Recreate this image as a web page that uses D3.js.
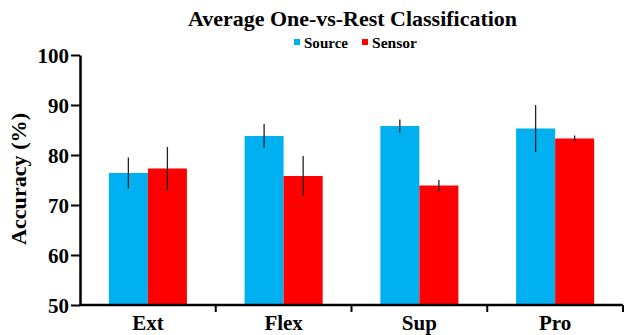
<!DOCTYPE html>
<html>
<head>
<meta charset="utf-8">
<script src="https://cdn.jsdelivr.net/npm/d3@7"></script>
<style>
  html, body { margin: 0; padding: 0; background: #fff; }
  svg { display: block; }
  text { font-family: "Liberation Serif", "Times New Roman", serif; font-weight: bold; fill: #000; }
</style>
</head>
<body>
<svg id="chart" width="625" height="335"></svg>
<script>
const categories = ["Ext", "Flex", "Sup", "Pro"];
const seriesNames = ["Source", "Sensor"];
const sourceValues = [76.4, 83.8, 85.8, 85.3];
const sourceErrors = [3.1, 2.4, 1.3, 4.7];
const sensorValues = [77.3, 75.8, 73.9, 83.3];
const sensorErrors = [4.3, 4.0, 1.1, 0.6];
const yTicks = [50, 60, 70, 80, 90, 100];
const colors = ["#00b0f0", "#ff0000"];

const svg = d3.select("#chart");
const margin = { left: 80, right: 2, top: 55, bottom: 30 };
const W = 625, H = 335;

const y = d3.scaleLinear().domain([50, 100]).range([H - margin.bottom, margin.top]);
const x0 = d3.scaleBand().domain(categories).range([margin.left, W - margin.right]).padding(0);
const groupW = x0.bandwidth() * 0.575;
const x1 = d3.scaleBand().domain(seriesNames)
  .range([x0.bandwidth() / 2 - groupW / 2, x0.bandwidth() / 2 + groupW / 2]).padding(0);

const data = [];
categories.forEach((c, i) => {
  data.push({ cat: c, s: "Source", v: sourceValues[i], e: sourceErrors[i], color: colors[0] });
  data.push({ cat: c, s: "Sensor", v: sensorValues[i], e: sensorErrors[i], color: colors[1] });
});

// bars
svg.append("g").selectAll("rect").data(data).join("rect")
  .attr("x", d => x0(d.cat) + x1(d.s))
  .attr("width", x1.bandwidth())
  .attr("y", d => y(d.v))
  .attr("height", d => y(50) - y(d.v))
  .attr("fill", d => d.color);

// error bars
svg.append("g").selectAll("line").data(data).join("line")
  .attr("x1", d => x0(d.cat) + x1(d.s) + x1.bandwidth() / 2)
  .attr("x2", d => x0(d.cat) + x1(d.s) + x1.bandwidth() / 2)
  .attr("y1", d => y(d.v + d.e))
  .attr("y2", d => y(d.v - d.e))
  .attr("stroke", "#222")
  .attr("stroke-width", 1.3);

// y axis
const yAxis = svg.append("g")
  .attr("transform", `translate(${margin.left},0)`)
  .attr("font-family", "Liberation Serif")
  .call(d3.axisLeft(y).tickValues(yTicks).tickSize(9).tickSizeOuter(0).tickPadding(2));
yAxis.select(".domain").attr("stroke", "#000").attr("stroke-width", 2.5);
yAxis.selectAll(".tick line").attr("stroke", "#000").attr("stroke-width", 2);
yAxis.selectAll(".tick text")
  .style("font-family", "'Liberation Serif', serif")
  .style("font-size", "21px").attr("fill", "#000").attr("dy", "0.34em");

// x axis
const xg = svg.append("g");
xg.append("line")
  .attr("x1", margin.left - 1).attr("x2", W - margin.right)
  .attr("y1", y(50)).attr("y2", y(50))
  .attr("stroke", "#000").attr("stroke-width", 2.5);
const boundaries = categories.slice(1).map(c => x0(c)).concat([x0.range()[1]]);
xg.selectAll("line.tk").data(boundaries).join("line").attr("class", "tk")
  .attr("x1", d => d).attr("x2", d => d)
  .attr("y1", y(50)).attr("y2", y(50) + 7)
  .attr("stroke", "#000").attr("stroke-width", 2);
xg.selectAll("text").data(categories).join("text")
  .attr("x", d => x0(d) + x0.bandwidth() / 2)
  .attr("y", 330)
  .attr("text-anchor", "middle")
  .style("font-size", "21px")
  .text(d => d);

// y title
svg.append("text")
  .attr("transform", `translate(26,179) rotate(-90)`)
  .attr("text-anchor", "middle")
  .style("font-size", "21px")
  .attr("textLength", 132).attr("lengthAdjust", "spacingAndGlyphs")
  .text("Accuracy (%)");

// title
svg.append("text")
  .attr("x", 188).attr("y", 26)
  .style("font-size", "22px")
  .attr("textLength", 329).attr("lengthAdjust", "spacingAndGlyphs")
  .text("Average One-vs-Rest Classification");

// legend
const legend = [
  { name: "Source", color: colors[0], sx: 294, tx: 304, tw: 44 },
  { name: "Sensor", color: colors[1], sx: 362, tx: 372, tw: 45 }
];
const lg = svg.append("g");
lg.selectAll("rect").data(legend).join("rect")
  .attr("x", d => d.sx).attr("y", 39).attr("width", 6).attr("height", 6)
  .attr("fill", d => d.color);
lg.selectAll("text").data(legend).join("text")
  .attr("x", d => d.tx).attr("y", 48)
  .style("font-size", "14px")
  .attr("textLength", d => d.tw).attr("lengthAdjust", "spacingAndGlyphs")
  .text(d => d.name);
</script>
</body>
</html>
